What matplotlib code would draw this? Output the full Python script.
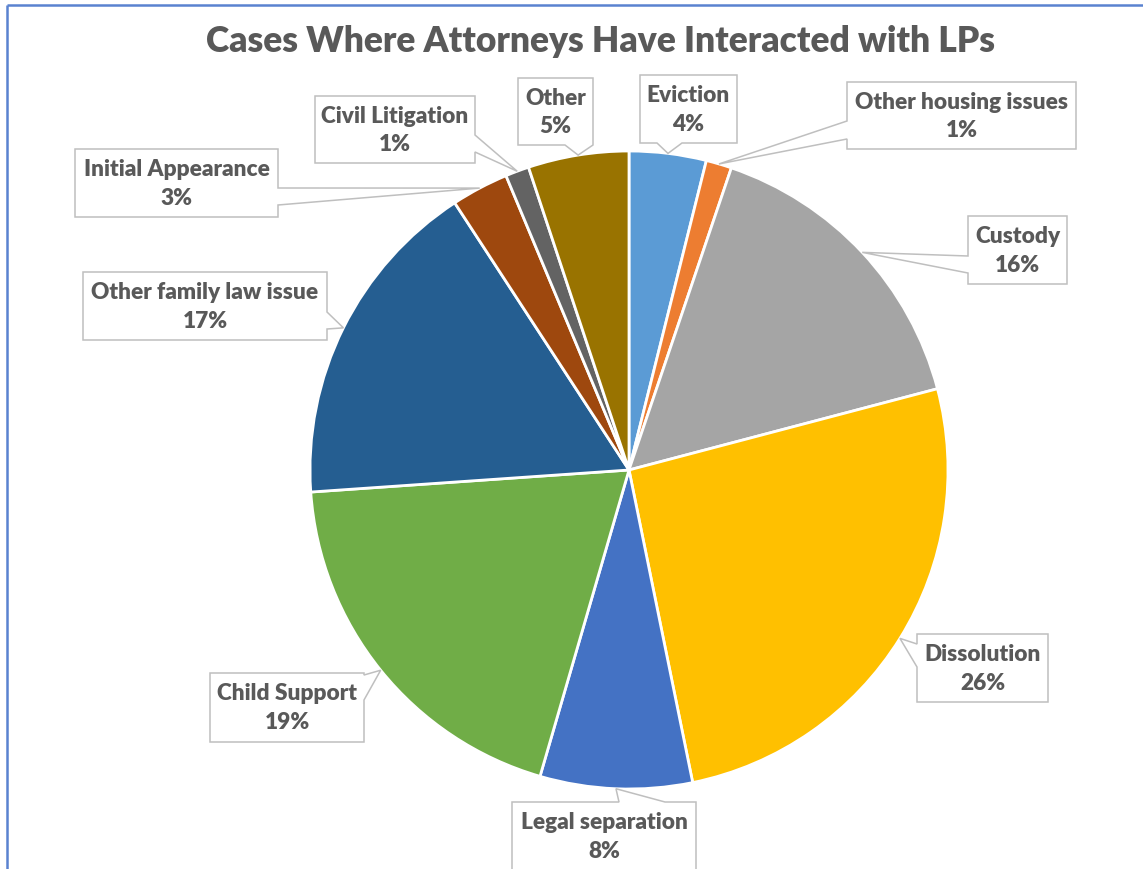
import matplotlib
matplotlib.use("Agg")
import matplotlib.pyplot as plt
from matplotlib.patches import Polygon
import numpy as np

# ---- data ----
categories = ["Eviction", "Other housing issues", "Custody", "Dissolution",
              "Legal separation", "Child Support", "Other family law issue",
              "Initial Appearance", "Civil Litigation", "Other"]
shares = [3.9, 1.3, 15.7, 25.9, 7.7, 19.4, 16.9, 2.9, 1.2, 5.1]
colors = ["#5B9BD5", "#ED7D31", "#A5A5A5", "#FFC000", "#4472C4",
          "#70AD47", "#255E91", "#9E480E", "#636363", "#997300"]
title = "Cases Where Attorneys Have Interacted with LPs"

# ---- layout (pixel coordinates, y downwards) ----
W, H = 1143, 869
CX, CY, R = 629, 470, 319
# box (left, top, right, bottom), side of pointer, pointer base span
callouts = [
    ((640, 75, 737, 143), "bottom", (657, 682)),
    ((847, 82, 1076, 149), "left", (121, 139)),
    ((968, 216, 1067, 284), "left", (256, 273)),
    ((917, 634, 1048, 702), "left", (644, 667)),
    ((512, 802, 696, 900), "top", (619, 665)),
    ((210, 673, 364, 742), "right", (675, 700)),
    ((83, 272, 327, 340), "right", (312, 329)),
    ((75, 149, 278, 217), "right", (188, 205)),
    ((315, 96, 475, 163), "right", (135, 152)),
    ((518, 78, 593, 145), "bottom", (565, 593)),
]

FONT = "Lato"
TXT = "#595959"
EDGE = "#BFBFBF"

fig = plt.figure(figsize=(W / 100, H / 100), dpi=100)
ax = fig.add_axes([0, 0, 1, 1])

wedges, _ = ax.pie(shares, colors=colors, startangle=90, counterclock=False,
                   radius=R, center=(CX, H - CY),
                   wedgeprops=dict(edgecolor="white", linewidth=2))
ax.set_xlim(0, W)
ax.set_ylim(0, H)
ax.set_aspect("auto")
ax.axis("off")


def to_data(pts):
    return [(x, H - y) for x, y in pts]


for w, cat, val, (box, side, (a, b)) in zip(wedges, categories, shares, callouts):
    mid = np.deg2rad((w.theta1 + w.theta2) / 2)
    tip = (CX + R * np.cos(mid), CY - R * np.sin(mid))  # pixel coords
    l, t, r, btm = box
    pts = [(l, t)]
    if side == "top":
        pts += [(a, t), tip, (b, t)]
    pts.append((r, t))
    if side == "right":
        pts += [(r, a), tip, (r, b)]
    pts.append((r, btm))
    if side == "bottom":
        pts += [(b, btm), tip, (a, btm)]
    pts.append((l, btm))
    if side == "left":
        pts += [(l, b), tip, (l, a)]
    poly = Polygon(to_data(pts), closed=True, facecolor="white",
                   edgecolor=EDGE, linewidth=1.1, joinstyle="miter", zorder=3)
    ax.add_patch(poly)
    cy_text = (t + min(btm, t + 68)) / 2 + 1
    ax.text((l + r) / 2, H - cy_text, f"{cat}\n{round(val)}%", ha="center",
            va="center", fontsize=16.3, fontweight="heavy", color=TXT,
            family=FONT, linespacing=1.42, zorder=4)

# title
ax.text(600, H - 41, title, ha="center", va="center", fontsize=25.5,
        fontweight="heavy", color=TXT, family=FONT, zorder=4)

# frame lines of the screenshot
ax.plot([7, W], [H - 5, H - 5], color="#5A82D0", lw=1.8, solid_capstyle="butt")
ax.plot([7, 7], [H - 5, 0], color="#5A82D0", lw=1.8, solid_capstyle="butt")

fig.savefig("out.png", dpi=100)
